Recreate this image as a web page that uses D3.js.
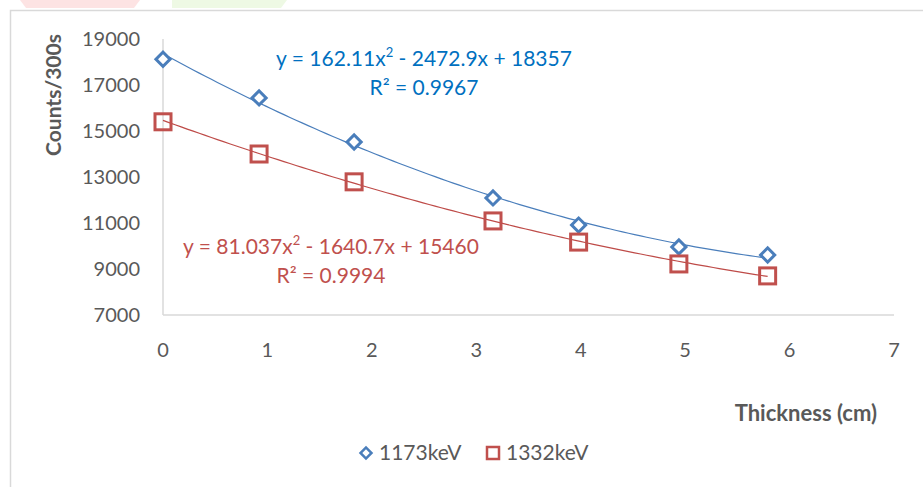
<!DOCTYPE html>
<html><head><meta charset="utf-8">
<script src="https://cdn.jsdelivr.net/npm/d3@7"></script>
<style>body{margin:0;background:#fff}svg{display:block}text{font-family:Lato,"Open Sans",sans-serif}</style>
</head><body><svg id="c" width="923" height="487"></svg>
<script>
const thickness = [0, 0.92, 1.83, 3.16, 3.98, 4.94, 5.79];
const counts1173 = [18120, 16440, 14520, 12090, 10910, 9960, 9610];
const counts1332 = [15400, 14000, 12790, 11090, 10170, 9220, 8700];
const fit1173 = [162.11, -2472.9, 18357];
const fit1332 = [81.037, -1640.7, 15460];
const xTicks = [0,1,2,3,4,5,6,7];
const yTicks = [7000,9000,11000,13000,15000,17000,19000];
const seriesNames = ["1173keV","1332keV"];

const svg = d3.select("#c");
const gray = "#595959";
// faint watermark shapes at the top
svg.append("path").attr("d","M20,0 L140,0 L134,8 L26,8 Z").attr("fill","#fde3e3");
svg.append("path").attr("d","M172,0 L287,0 L281,8 L172,8 Z").attr("fill","#eef9e4");
// chart border
svg.append("rect").attr("x",10.5).attr("y",10.5).attr("width",940).attr("height",500)
  .attr("fill","#fff").attr("stroke","#d9d9d9").attr("stroke-width",1.5);

const x = d3.scaleLinear().domain([0,7]).range([163,894]);
const y = d3.scaleLinear().domain([7000,19000]).range([315,39]);

// axes lines
svg.append("line").attr("x1",x(0)).attr("x2",x(7)).attr("y1",y(7000)).attr("y2",y(7000)).attr("stroke","#d9d9d9").attr("stroke-width",1.5);
svg.append("line").attr("x1",x(0)).attr("x2",x(0)).attr("y1",y(7000)).attr("y2",y(19000)).attr("stroke","#d9d9d9").attr("stroke-width",1.5);

// tick labels
svg.selectAll(".yt").data(yTicks).join("text").attr("x",140).attr("y",d=>y(d)).attr("dy","0.35em")
  .attr("text-anchor","end").attr("fill",gray).attr("font-size",20).text(d=>d);
svg.selectAll(".xt").data(xTicks).join("text").attr("x",d=>x(d)).attr("y",350).attr("dy","0.35em")
  .attr("text-anchor","middle").attr("fill",gray).attr("font-size",20).text(d=>d);

// axis titles
svg.append("text").attr("transform","translate(61,95) rotate(-90)").attr("text-anchor","middle")
  .attr("font-weight","bold").attr("font-size",21).attr("fill",gray).text("Counts/300s");
svg.append("text").attr("x",877).attr("y",413).attr("dy","0.35em").attr("text-anchor","end")
  .attr("font-weight","bold").attr("font-size",22).attr("fill",gray).text("Thickness (cm)");

// trendlines
function trend(c, color){
  const xs = d3.range(0, 101).map(i => thickness[thickness.length-1]*i/100);
  const line = d3.line().x(d=>x(d)).y(d=>y(c[0]*d*d + c[1]*d + c[2])).curve(d3.curveLinear);
  svg.append("path").attr("d", line(xs)).attr("fill","none").attr("stroke",color).attr("stroke-width",1.2);
}
trend(fit1173, "#4a7ebb");
trend(fit1332, "#be4b48");

const blue = "#4a7ebb", red = "#c0504d";
const diamond = d3.symbol().type(d3.symbolSquare).size(100);
svg.selectAll(".d").data(thickness).join("path")
  .attr("d", diamond())
  .attr("transform",(d,i)=>`translate(${x(d)},${y(counts1173[i])}) rotate(45)`)
  .attr("fill","#fff").attr("stroke",blue).attr("stroke-width",3);
svg.selectAll(".s").data(thickness).join("rect")
  .attr("x",d=>x(d)-8).attr("y",(d,i)=>y(counts1332[i])-8).attr("width",16).attr("height",16)
  .attr("fill","#fff").attr("fill-opacity",0).attr("stroke",red).attr("stroke-width",3);

// equations
function eq(cx, cy, c, r2, color){
  const fmt = v => String(Math.abs(v));
  const t = svg.append("text").attr("x",cx).attr("y",cy).attr("text-anchor","middle").attr("fill",color).attr("font-size",21);
  t.append("tspan").text(`y = ${fmt(c[0])}x`);
  t.append("tspan").attr("font-size",13).attr("dy",-9).text("2");
  t.append("tspan").attr("dy",9).text(` - ${fmt(c[1])}x + ${fmt(c[2])}`);
  svg.append("text").attr("x",cx).attr("y",cy+29).attr("text-anchor","middle").attr("fill",color).attr("font-size",21).text(`R² = ${r2}`);
}
eq(424, 66, fit1173, "0.9967", "#0070c0");
eq(331, 254, fit1332, "0.9994", "#c0504d");

// legend
svg.append("path").attr("d", d3.symbol().type(d3.symbolSquare).size(60)()).attr("transform","translate(366,453) rotate(45)")
  .attr("fill","#fff").attr("stroke",blue).attr("stroke-width",2.5);
svg.append("text").attr("x",379).attr("y",453).attr("dy","0.35em").attr("fill",gray).attr("font-size",21).text(seriesNames[0]);
svg.append("rect").attr("x",487).attr("y",447).attr("width",12).attr("height",12)
  .attr("fill","#fff").attr("stroke",red).attr("stroke-width",2.5);
svg.append("text").attr("x",506).attr("y",453).attr("dy","0.35em").attr("fill",gray).attr("font-size",21).text(seriesNames[1]);
</script></body></html>
